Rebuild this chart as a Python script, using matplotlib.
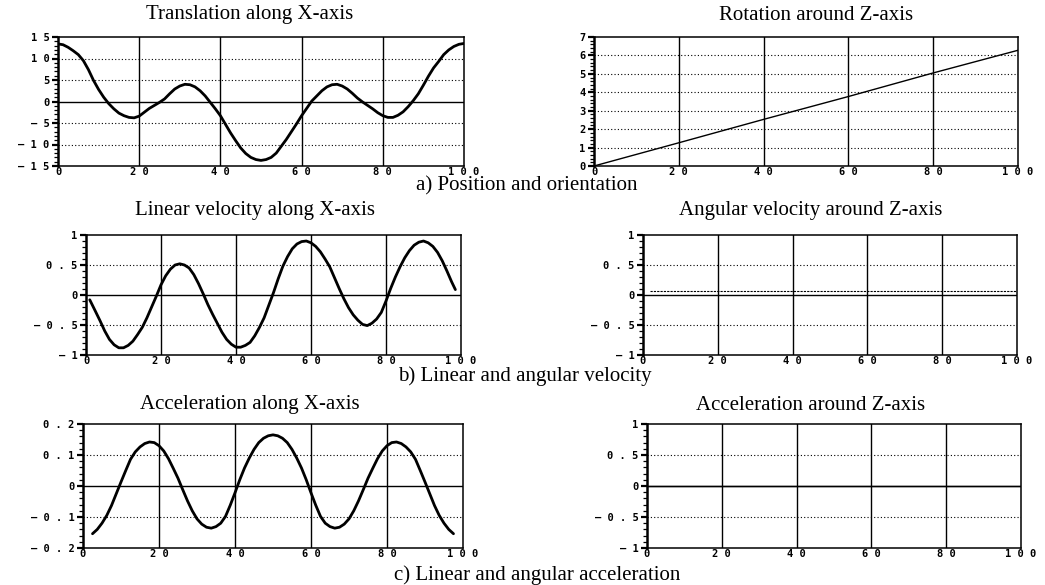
import matplotlib
matplotlib.use("Agg")
import matplotlib.pyplot as plt
import numpy as np
from matplotlib.ticker import MultipleLocator

# ---------------- data ----------------
x_ticks = [0, 20, 40, 60, 80, 100]

trans_x = list(np.arange(0, 100.001, 1.25))
trans_y = [13.4, 13.2, 12.6, 11.8, 10.9, 9.5, 7.4, 4.9, 2.8, 1.0, -0.5, -1.7, -2.7,
           -3.3, -3.7, -3.8, -3.4, -2.5, -1.6, -0.9, -0.2, 0.6, 1.8, 2.9, 3.6, 4.0,
           3.9, 3.4, 2.5, 1.3, -0.2, -1.7, -3.3, -5.3, -7.3, -9.1, -10.8, -12.1,
           -13.0, -13.5, -13.7,
           -13.5, -13.0, -12.0, -10.4, -8.8, -7.0, -5.2, -3.3, -1.6, 0.1, 1.3, 2.5,
           3.4, 3.9, 4.0, 3.6, 2.9, 1.9, 0.8, -0.1, -0.9, -1.7, -2.6, -3.3, -3.7,
           -3.7, -3.2, -2.4, -1.2, 0.2, 1.8, 3.8, 5.9, 7.8, 9.3, 10.9, 12.0, 12.8,
           13.3, 13.5]
trans_yticks = [-15, -10, -5, 0, 5, 10, 15]

rot_x = [0, 20, 40, 60, 80, 100]
rot_y = [0.0, 1.26, 2.53, 3.77, 5.05, 6.28]
rot_yticks = [0, 1, 2, 3, 4, 5, 6, 7]

vel_x = [1.0] + list(np.arange(2.5, 97.501, 1.25)) + [98.5]
vel_y = [-0.08,
         -0.27, -0.43, -0.60, -0.74, -0.83, -0.88, -0.88, -0.84, -0.77, -0.66,
         -0.54, -0.38, -0.20, -0.02, 0.17, 0.32, 0.43, 0.50, 0.52, 0.50, 0.45,
         0.34, 0.19, 0.02, -0.16, -0.32, -0.47, -0.62, -0.74, -0.82, -0.87, -0.87,
         -0.84, -0.79, -0.68, -0.54, -0.38, -0.17, 0.04, 0.27, 0.48, 0.64, 0.77,
         0.85, 0.89, 0.90, 0.87, 0.81, 0.72, 0.60, 0.47, 0.29, 0.11, -0.06, -0.21,
         -0.33, -0.42, -0.49, -0.51, -0.47, -0.40, -0.29, -0.10, 0.11, 0.30, 0.47,
         0.62, 0.74, 0.83, 0.88, 0.90, 0.87, 0.81, 0.71, 0.57, 0.40, 0.22,
         0.09]
unit_yticks = [-1, -0.5, 0, 0.5, 1]

angvel_x = [2, 100]
angvel_y = [0.063, 0.063]

acc_x = list(np.arange(2.5, 97.501, 1.25))
acc_y = [-0.154, -0.140, -0.120, -0.095, -0.063, -0.025, 0.013, 0.050, 0.086, 0.110,
         0.126, 0.137, 0.142, 0.140, 0.130, 0.113, 0.088, 0.057, 0.025, -0.012,
         -0.048, -0.080, -0.106, -0.123, -0.133, -0.136, -0.131, -0.120, -0.098,
         -0.062, -0.022, 0.020, 0.058, 0.090, 0.118, 0.140, 0.154, 0.162, 0.165,
         0.162, 0.154, 0.140, 0.118, 0.090, 0.058, 0.020, -0.022, -0.062, -0.098,
         -0.120, -0.131, -0.136, -0.133, -0.123, -0.106, -0.080, -0.048, -0.012,
         0.025, 0.057, 0.088, 0.113, 0.130, 0.140, 0.142, 0.137, 0.126, 0.110,
         0.086, 0.050, 0.013, -0.025, -0.063, -0.095, -0.120, -0.140, -0.154]
acc_yticks = [-0.2, -0.1, 0, 0.1, 0.2]

angacc_x = [0, 100]
angacc_y = [0, 0]

titles = ["Translation along X-axis", "Rotation around Z-axis",
          "Linear velocity along X-axis", "Angular velocity around Z-axis",
          "Acceleration along X-axis", "Acceleration around Z-axis"]
captions = ["a) Position and orientation", "b) Linear and angular velocity",
            "c) Linear and angular acceleration"]

# ---------------- figure ----------------
W, H = 1045, 585
fig = plt.figure(figsize=(W / 100, H / 100), dpi=100)
fig.patch.set_facecolor("white")

SERIF = "Liberation Serif"
TICKFONT = dict(family="DejaVu Sans Mono", weight="bold", size=7.5)


def spaced(v):
    if abs(v - round(v)) < 1e-9:
        s = str(int(round(v)))
    else:
        s = "%.1f" % v
    neg = s.startswith("-")
    s = " ".join(list(s.lstrip("-")))
    return ("— " + s) if neg else s


def make_axes(l, r, t, b):
    return fig.add_axes([l / W, 1 - b / H, (r - l) / W, (b - t) / H])


def style(ax, ylim, yticks, minor, zero_line=True):
    ax.set_xlim(0, 100)
    ax.set_ylim(*ylim)
    ax.set_xticks(x_ticks)
    ax.set_xticklabels([spaced(v) for v in x_ticks], fontdict=TICKFONT)
    ax.set_yticks(yticks)
    ax.set_yticklabels([spaced(v) for v in yticks], fontdict=TICKFONT)
    ax.yaxis.set_minor_locator(MultipleLocator(minor))
    ax.tick_params(axis="y", which="major", direction="out", length=4, width=1.6,
                   pad=2, color="black")
    ax.tick_params(axis="y", which="minor", direction="out", length=3, width=0.9,
                   color="black")
    ax.tick_params(axis="x", which="major", length=0, pad=1)
    for sp in ax.spines.values():
        sp.set_linewidth(1.1)
        sp.set_color("black")
    ax.spines["left"].set_linewidth(1.8)
    for xv in x_ticks[1:-1]:
        ax.axvline(xv, color="black", lw=1.0, zorder=1)
    for yv in yticks:
        if yv in (ylim[0], ylim[1]):
            continue
        if abs(yv) < 1e-12:
            if zero_line:
                ax.axhline(0, color="black", lw=1.0, zorder=1)
        else:
            ax.axhline(yv, color="black", lw=0.8, ls=(0, (1, 2)), zorder=1)


CURVE = dict(color="black", lw=2.0, zorder=3, solid_joinstyle="round",
             solid_capstyle="round")

# Row 1
ax1 = make_axes(58, 464, 37, 166)
style(ax1, (-15, 15), trans_yticks, 1)
ax1.plot(trans_x, trans_y, **CURVE)

ax2 = make_axes(594, 1018, 37, 166)
style(ax2, (0, 7), rot_yticks, 0.2)
ax2.plot(rot_x, rot_y, color="black", lw=1.0, zorder=3)

# Row 2
ax3 = make_axes(86, 461, 235, 355)
style(ax3, (-1, 1), unit_yticks, 0.1)
ax3.plot(vel_x, vel_y, **CURVE)

ax4 = make_axes(643, 1017, 235, 355)
style(ax4, (-1, 1), unit_yticks, 0.1)
ax4.plot(angvel_x, angvel_y, color="black", lw=0.8, ls=(0, (2, 1)), zorder=3)

# Row 3
ax5 = make_axes(83, 463, 424, 548)
style(ax5, (-0.2, 0.2), acc_yticks, 0.02)
ax5.plot(acc_x, acc_y, **CURVE)

ax6 = make_axes(647, 1021, 424, 548)
style(ax6, (-1, 1), unit_yticks, 0.1)
ax6.plot(angacc_x, angacc_y, color="black", lw=1.0, zorder=3)

# titles
title_pos = [(250, 15), (816, 15), (255, 210), (811, 210), (250, 405), (811, 405)]
for txt, (px, py) in zip(titles, title_pos):
    fig.text(px / W, 1 - py / H, txt, ha="center", va="center",
             family=SERIF, fontsize=15)

cap_pos = [(527, 186), (525, 376), (537, 575)]
for txt, (px, py) in zip(captions, cap_pos):
    fig.text(px / W, 1 - py / H, txt, ha="center", va="center",
             family=SERIF, fontsize=15)

fig.savefig("out.png", dpi=100, facecolor="white")
